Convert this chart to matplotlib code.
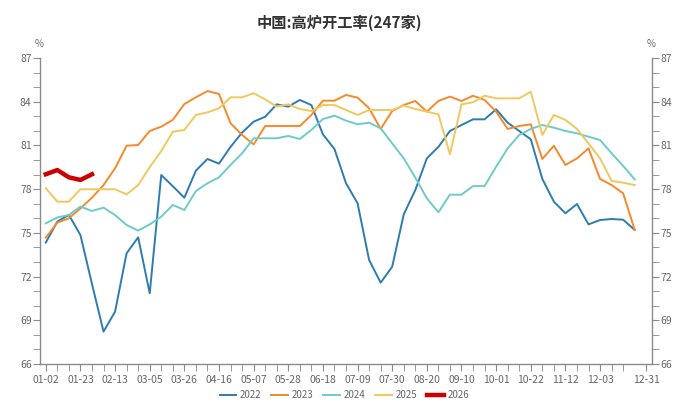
import matplotlib
matplotlib.use("Agg")
import matplotlib.pyplot as plt
from matplotlib.ticker import MultipleLocator, FixedLocator
import numpy as np

plt.rcParams['font.family'] = ['Noto Sans CJK SC', 'DejaVu Sans']

title = "中国:高炉开工率(247家)"
categories = ["01-02", "01-09", "01-16", "01-23", "01-30", "02-06", "02-13", "02-20", "02-27",
              "03-05", "03-12", "03-19", "03-26", "04-02", "04-09", "04-16", "04-23", "04-30",
              "05-07", "05-14", "05-21", "05-28", "06-04", "06-11", "06-18", "06-25", "07-02",
              "07-09", "07-16", "07-23", "07-30", "08-06", "08-13", "08-20", "08-27", "09-03",
              "09-10", "09-17", "09-24", "10-01", "10-08", "10-15", "10-22", "10-29", "11-05",
              "11-12", "11-19", "11-26", "12-03", "12-10", "12-17", "12-24", "12-31"]

s2022 = [74.33, 75.77, 76.23, 74.85, 71.5, 68.22, 69.59, 73.6, 74.69, 70.85,
         78.97, 78.2, 77.41, 79.27, 80.07, 79.75, 80.9, 81.88, 82.63, 82.97,
         83.82, 83.66, 84.12, 83.77, 81.76, 80.75, 78.4, 77.03, 73.14, 71.58,
         72.68, 76.27, 77.94, 80.11, 80.9, 81.99, 82.4, 82.79, 82.79, 83.48,
         82.56, 81.99, 81.42, 78.7, 77.14, 76.34, 76.98, 75.58, 75.88, 75.95,
         75.9, 75.2]
s2023 = [74.67, 75.7, 76.0, 76.68, 77.41, 78.28, 79.43, 80.98, 81.03, 81.99,
         82.29, 82.75, 83.84, 84.3, 84.73, 84.53, 82.52, 81.72, 81.07, 82.33,
         82.33, 82.33, 82.33, 83.09, 84.07, 84.07, 84.46, 84.28, 83.55, 82.13,
         83.36, 83.77, 84.05, 83.32, 84.05, 84.35, 84.05, 84.41, 84.12, 83.32,
         82.13, 82.33, 82.45, 80.07, 80.98, 79.66, 80.11, 80.8, 78.7, 78.28,
         77.71, 75.2]
s2024 = [75.65, 76.06, 76.22, 76.8, 76.5, 76.73, 76.22, 75.54, 75.15, 75.58,
         76.11, 76.91, 76.57, 77.87, 78.4, 78.81, 79.66, 80.46, 81.49, 81.49,
         81.49, 81.65, 81.44, 82.06, 82.81, 83.04, 82.7, 82.45, 82.56, 82.17,
         81.14, 80.11, 78.79, 77.37, 76.41, 77.62, 77.62, 78.21, 78.21, 79.54,
         80.8, 81.72, 82.13, 82.4, 82.22, 81.99, 81.83, 81.6, 81.37, 80.46,
         79.59, 78.67]
s2025 = [78.06, 77.14, 77.14, 77.99, 77.99, 77.99, 77.99, 77.64, 78.28, 79.5,
         80.62, 81.94, 82.06, 83.09, 83.27, 83.55, 84.3, 84.3, 84.58, 84.16,
         83.66, 83.82, 83.5, 83.36, 83.77, 83.77, 83.43, 83.09, 83.43, 83.43,
         83.43, 83.73, 83.5, 83.32, 83.13, 80.39, 83.82, 83.96, 84.41, 84.23,
         84.23, 84.23, 84.69, 81.72, 83.09, 82.75, 82.13, 81.14, 80.11, 78.56,
         78.44, 78.28]
s2026 = [79.02, 79.31, 78.81, 78.63, 79.02]

series = [("2022", s2022, "#2e7cb0", 1.4),
          ("2023", s2023, "#f68a2b", 1.4),
          ("2024", s2024, "#6ecbca", 1.4),
          ("2025", s2025, "#efc85e", 1.4),
          ("2026", s2026, "#cc0000", 3.2)]

fig = plt.figure(figsize=(6.78, 4.11), dpi=100)
ax = fig.add_axes([0.059, 0.1144, 0.9027, 0.7445])

handles = []
for name, vals, color, lw in series:
    x = np.arange(len(vals))
    h, = ax.plot(x, vals, color=color, lw=lw, label=name, solid_joinstyle='round')
    handles.append(h)

ax.set_xlim(-0.5, len(categories) - 0.5)
ax.set_ylim(66, 87)

label_idx = list(range(0, 49, 3)) + [52]
ax.xaxis.set_major_locator(FixedLocator(label_idx))
ax.set_xticklabels([categories[i] for i in label_idx])
ax.xaxis.set_minor_locator(FixedLocator([i for i in range(0, 51) if i not in label_idx]))

ax.yaxis.set_major_locator(MultipleLocator(3))
ax.yaxis.set_minor_locator(MultipleLocator(1))

axis_color = "#8a8a8a"
text_color = "#666666"
for side in ["left", "right", "bottom"]:
    ax.spines[side].set_color(axis_color)
    ax.spines[side].set_linewidth(1.0)
ax.spines["top"].set_visible(False)

ax.tick_params(axis='y', which='both', left=True, right=True, labelleft=True, labelright=True,
               colors=axis_color, labelcolor=text_color, labelsize=7.5, direction='out')
ax.tick_params(axis='y', which='major', length=5, pad=1)
ax.tick_params(axis='y', which='minor', length=5)
ax.tick_params(axis='x', which='both', colors=axis_color, labelcolor=text_color,
               labelsize=7.5, length=5, direction='out', pad=3)

fig.text(0.5, 0.945, title, ha='center', va='center', fontsize=11, fontweight='bold', color='#333333')
fig.text(0.057, 0.893, "%", ha='center', va='center', fontsize=7, color=text_color)
fig.text(0.961, 0.893, "%", ha='center', va='center', fontsize=7, color=text_color)

leg = fig.legend(handles=handles, loc='center', bbox_to_anchor=(0.508, 0.038), ncol=5,
                 frameon=False, fontsize=7, handlelength=1.7, handletextpad=0.4,
                 columnspacing=1.0, labelcolor=text_color)

fig.savefig("out.png", dpi=100)
